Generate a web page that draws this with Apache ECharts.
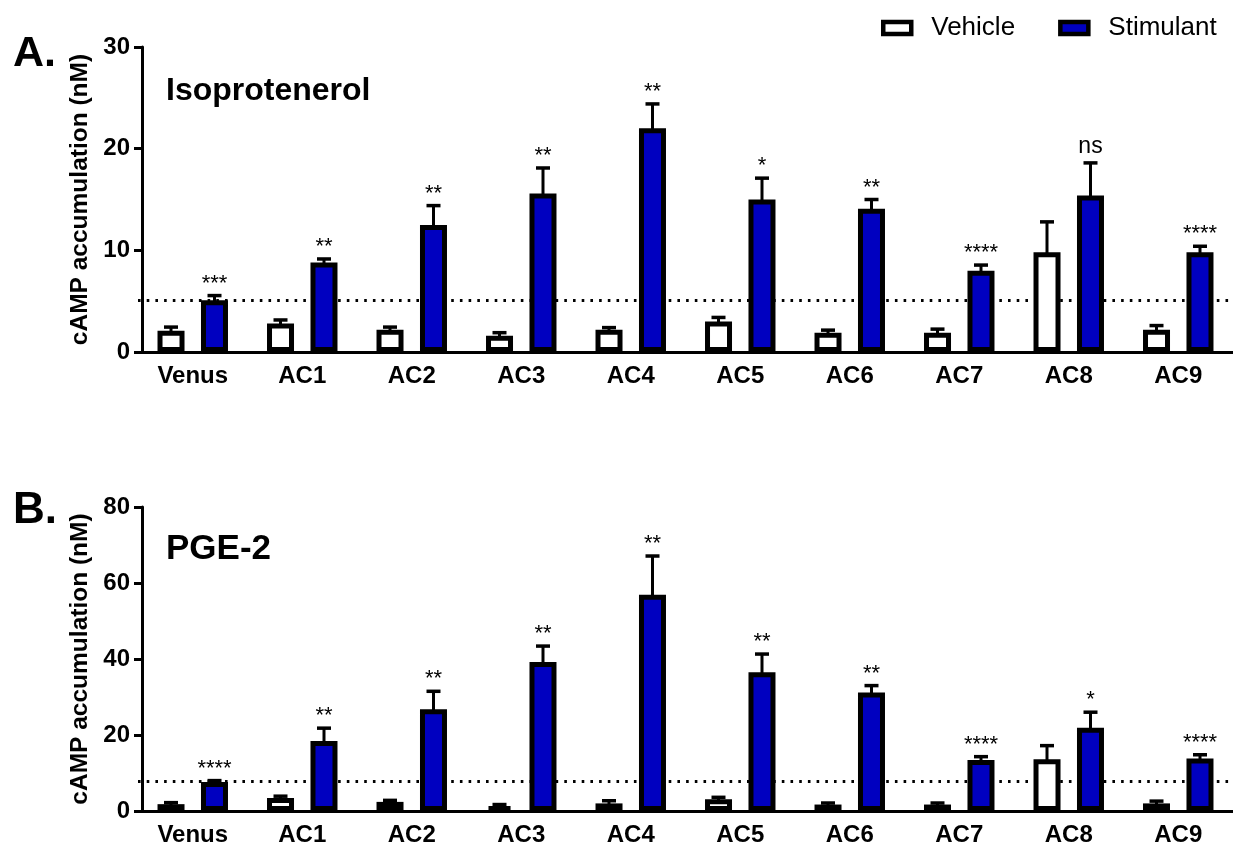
<!DOCTYPE html>
<html>
<head>
<meta charset="utf-8">
<script src="https://cdn.jsdelivr.net/npm/echarts@6/dist/echarts.min.js"></script>
<style>
html,body{margin:0;padding:0;background:#fff;}
#chart{width:1233px;height:848px;}
</style>
</head>
<body>
<div id="chart"></div>
<script>
// ---------- data ----------
var categories = ['Venus','AC1','AC2','AC3','AC4','AC5','AC6','AC7','AC8','AC9'];

// Panel A: Isoproterenol
var isoVehicle    = [2.1, 2.8, 2.2, 1.6, 2.2, 3.0, 1.9, 1.9, 9.8, 2.2];
var isoVehicleSem = [0.35, 0.35, 0.25, 0.3, 0.2, 0.4, 0.25, 0.35, 3.0, 0.4];
var isoStim       = [5.1, 8.8, 12.5, 15.6, 22.0, 15.0, 14.1, 8.0, 15.4, 9.8];
var isoStimSem    = [0.45, 0.35, 1.9, 2.5, 2.4, 2.1, 0.9, 0.55, 3.2, 0.6];
var isoSig        = ['***','**','**','**','**','*','**','****','ns','****'];
var isoBaseline   = 5.1;

// Panel B: PGE-2
var pgeVehicle    = [1.8, 3.4, 2.4, 1.3, 2.0, 3.1, 1.7, 1.7, 13.6, 2.0];
var pgeVehicleSem = [0.4, 0.5, 0.4, 0.4, 0.7, 0.5, 0.4, 0.4, 3.6, 0.6];
var pgeStim       = [7.6, 18.4, 26.8, 39.2, 56.9, 36.5, 31.2, 13.4, 21.9, 13.8];
var pgeStimSem    = [0.4, 3.4, 4.7, 4.2, 10.2, 4.8, 1.8, 0.9, 4.1, 1.0];
var pgeSig        = ['****','**','**','**','**','**','**','****','*','****'];
var pgeBaseline   = 7.8;

var yTicksA = {min: 0, max: 30, interval: 10};
var yTicksB = {min: 0, max: 80, interval: 20};

// ---------- styling ----------
var FONT = '"Liberation Sans", Arial, sans-serif';
var BLUE = '#0000C0';
var BAR_W = 27, BORDER = 5, GAP = '61%';
var HALF = (27 + 16.5) / 2; // center offset of each bar from category center

function errData(means, sems, sig) {
  return means.map(function (m, i) { return [i, m, sems[i], sig ? sig[i] : '']; });
}

function errRender(offset) {
  return function (params, api) {
    var idx = api.value(0), mean = api.value(1), sem = api.value(2);
    var sig = api.value(3);
    var p0 = api.coord([idx, mean]);
    var p1 = api.coord([idx, mean + sem]);
    var x = p0[0] + offset;
    var children = [
      {type: 'line', shape: {x1: x, y1: p0[1] + 2, x2: x, y2: p1[1]}, style: {stroke: '#000', lineWidth: 3}},
      {type: 'line', shape: {x1: x - 7, y1: p1[1], x2: x + 7, y2: p1[1]}, style: {stroke: '#000', lineWidth: 3.5}}
    ];
    if (sig) {
      var isNs = sig === 'ns';
      children.push({type: 'text', style: {
        text: sig, x: x, y: p1[1] - (isNs ? 5 : 1),
        align: 'center', verticalAlign: 'bottom',
        font: (isNs ? '23px ' : '22px ') + FONT, fill: '#000'
      }});
    }
    return {type: 'group', children: children};
  };
}

function xAxisCfg(gi) {
  return {
    type: 'category', gridIndex: gi, data: categories,
    axisLine: {lineStyle: {color: '#000', width: 3}},
    axisTick: {alignWithLabel: true, length: 7, lineStyle: {width: 3, color: '#000'}},
    axisLabel: {color: '#000', fontFamily: FONT, fontWeight: 'bold', fontSize: 24, margin: 12}
  };
}
function yAxisCfg(gi, t) {
  return {
    type: 'value', gridIndex: gi, min: t.min, max: t.max, interval: t.interval, offset: -4,
    name: 'cAMP accumulation (nM)', nameLocation: 'middle', nameGap: 49,
    nameTextStyle: {color: '#000', fontFamily: FONT, fontWeight: 'bold', fontSize: 24.5},
    splitLine: {show: false},
    axisLine: {show: true, lineStyle: {color: '#000', width: 3}},
    axisTick: {show: true, length: 8, lineStyle: {width: 3, color: '#000'}},
    axisLabel: {color: '#000', fontFamily: FONT, fontWeight: 'bold', fontSize: 24, margin: 12}
  };
}
function barSeries(name, gi, data, color, baseline) {
  var s = {
    name: name, type: 'bar', xAxisIndex: gi, yAxisIndex: gi, data: data,
    barWidth: BAR_W, barGap: GAP, z: 2,
    itemStyle: {color: color, borderColor: '#000', borderWidth: BORDER},
    emphasis: {disabled: true}
  };
  if (baseline != null) {
    s.markLine = {
      silent: true, symbol: 'none', z: 1, label: {show: false},
      lineStyle: {color: '#000', width: 3, type: [2.6, 6.1], cap: 'butt'},
      data: [{yAxis: baseline}]
    };
  }
  return s;
}
function errSeries(gi, means, sems, sig, offset) {
  return {
    type: 'custom', xAxisIndex: gi, yAxisIndex: gi, z: 3, silent: true,
    renderItem: errRender(offset), data: errData(means, sems, sig)
  };
}

var chart = echarts.init(document.getElementById('chart'), null, {renderer: 'canvas'});
chart.setOption({
  animation: false,
  backgroundColor: '#fff',
  legend: {
    data: ['Vehicle', 'Stimulant'], left: 881, top: 15, padding: 0,
    icon: 'rect', itemWidth: 28, itemHeight: 12, itemGap: 43,
    itemStyle: {borderColor: '#000', borderWidth: 4.5},
    textStyle: {color: '#000', fontFamily: FONT, fontSize: 26, padding: [0, 0, 0, 15]},
    selectedMode: false
  },
  grid: [
    {left: 138, top: 47, width: 1097, height: 305},
    {left: 138, top: 507, width: 1097, height: 304}
  ],
  xAxis: [xAxisCfg(0), xAxisCfg(1)],
  yAxis: [yAxisCfg(0, yTicksA), yAxisCfg(1, yTicksB)],
  graphic: [
    {type: 'text', left: 13, top: 33, style: {text: 'A.', font: 'bold 43px ' + FONT, fill: '#000'}},
    {type: 'text', left: 166, top: 75, style: {text: 'Isoprotenerol', font: 'bold 32px ' + FONT, fill: '#000'}},
    {type: 'text', left: 13, top: 489, style: {text: 'B.', font: 'bold 44px ' + FONT, fill: '#000'}},
    {type: 'text', left: 166, top: 532, style: {text: 'PGE-2', font: 'bold 35px ' + FONT, fill: '#000'}}
  ],
  series: [
    barSeries('Vehicle', 0, isoVehicle, '#fff', isoBaseline),
    barSeries('Stimulant', 0, isoStim, BLUE),
    errSeries(0, isoVehicle, isoVehicleSem, null, -HALF),
    errSeries(0, isoStim, isoStimSem, isoSig, HALF),
    barSeries('Vehicle', 1, pgeVehicle, '#fff', pgeBaseline),
    barSeries('Stimulant', 1, pgeStim, BLUE),
    errSeries(1, pgeVehicle, pgeVehicleSem, null, -HALF),
    errSeries(1, pgeStim, pgeStimSem, pgeSig, HALF)
  ]
});
</script>
</body>
</html>
